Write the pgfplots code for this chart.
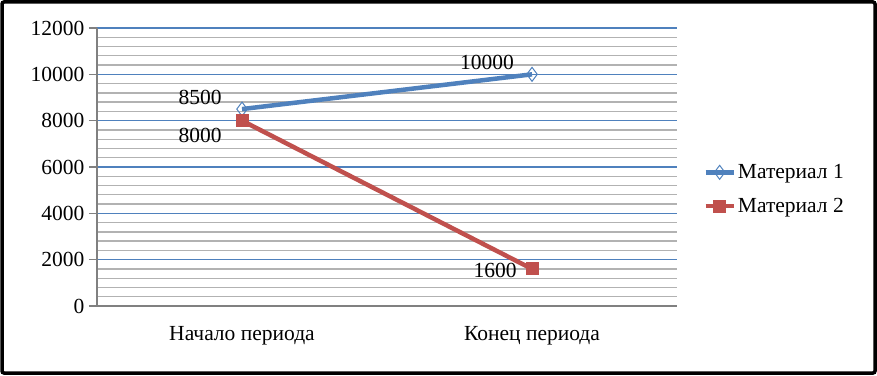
\documentclass[border=0pt]{standalone}
\usepackage{pgfplots}
\pgfplotsset{compat=1.18}
\usepackage{fontspec}
\setmainfont{Liberation Serif}
\definecolor{blue1}{HTML}{4F81BD}
\definecolor{red1}{HTML}{C0504D}
\begin{document}
\begin{tikzpicture}[x=1pt,y=1pt]
\useasboundingbox (0,0) rectangle (877,375);
\draw[line width=3.5pt, rounded corners=2pt] (2,2) rectangle (875,373);
\begin{axis}[
  at={(97pt,69pt)}, anchor=south west,
  scale only axis, width=580pt, height=278pt,
  xmin=-0.5, xmax=1.5, ymin=0, ymax=12000,
  axis lines*=left,
  axis line style={gray, line width=2pt},
  xtick={0,1}, xticklabels={Начало периода, Конец периода},
  major x tick style={draw=none},
  extra x ticks={-0.5,0.5,1.5}, extra x tick labels={},
  extra x tick style={grid=none, major tick length=8pt, tick style={gray, line width=1.2pt}},
  ytick={0,2000,...,12000},
  scaled y ticks=false,
  minor y tick num=4,
  ymajorgrids, yminorgrids,
  major grid style={blue1, line width=1.2pt},
  minor grid style={gray!60, line width=1.3pt},
  ytick style={gray, line width=1.2pt},
  minor tick length=0pt,
  major tick length=8pt,
  tick align=outside,
  /pgf/number format/1000 sep={},
  /pgf/number format/assume math mode=true,
  tick label style={font=\fontsize{21.5}{24}\selectfont, black},
  yticklabel style={xshift=-1pt},
  xticklabel style={yshift=-9pt},
  legend style={at={(1.04,0.42)}, anchor=west, draw=none, fill=none,
    font=\fontsize{21.5}{24}\selectfont, row sep=14pt},
  legend cell align=left,
  legend image code/.code={
    \draw[mark repeat=2,mark phase=2,#1] plot coordinates {(0pt,0pt) (14pt,0pt) (28pt,0pt)};
  },
  clip=false,
]
\addplot[blue1, line width=4.5pt, mark=diamond, mark size=7pt, mark options={line width=1pt, fill=white}] coordinates {(0,8500) (1,10000)};
\addlegendentry{Материал 1}
\addplot[red1, line width=4.5pt, mark=square*, mark size=6pt, mark options={line width=0pt}] coordinates {(0,8000) (1,1600)};
\addlegendentry{Материал 2}
\node[font=\fontsize{21.5}{24}\selectfont] at (axis cs:0,8500) [xshift=-42pt, yshift=12pt] {8500};
\node[font=\fontsize{21.5}{24}\selectfont] at (axis cs:0,8000) [xshift=-42pt, yshift=-15pt] {8000};
\node[font=\fontsize{21.5}{24}\selectfont] at (axis cs:1,10000) [xshift=-45pt, yshift=12pt] {10000};
\node[font=\fontsize{21.5}{24}\selectfont] at (axis cs:1,1600) [xshift=-37pt, yshift=-2pt] {1600};
\end{axis}
\end{tikzpicture}
\end{document}
